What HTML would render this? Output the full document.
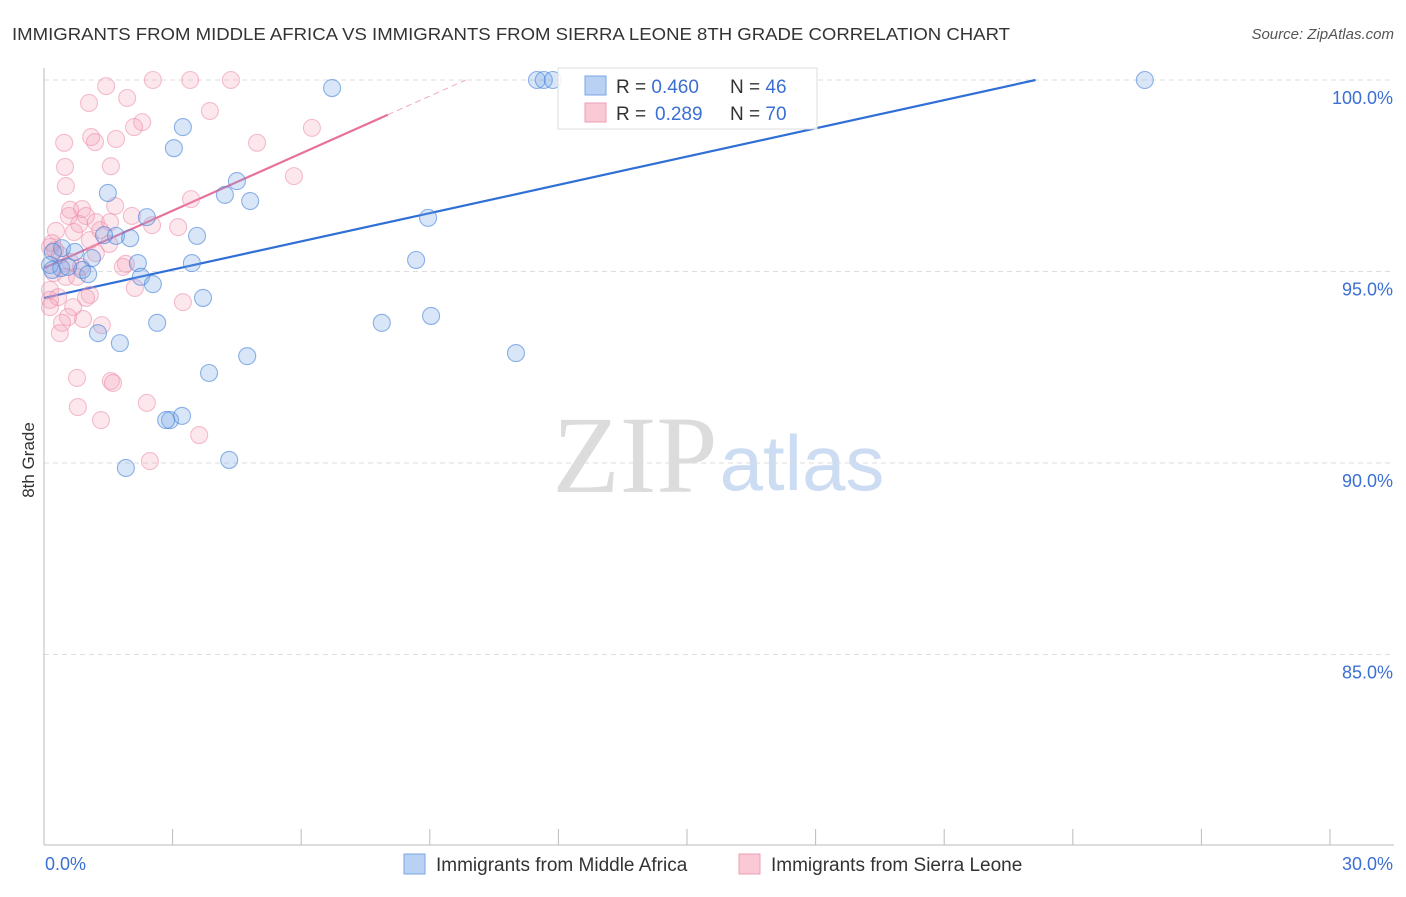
<!DOCTYPE html>
<html><head><meta charset="utf-8"><style>
body{margin:0;background:#fff;width:1406px;height:892px;overflow:hidden;font-family:"Liberation Sans",sans-serif}
svg text{font-family:"Liberation Sans",sans-serif}
</style></head><body>
<svg id="chart" width="1406" height="892">
<text x="12" y="40" font-size="17.5" fill="#333" textLength="998" lengthAdjust="spacingAndGlyphs">IMMIGRANTS FROM MIDDLE AFRICA VS IMMIGRANTS FROM SIERRA LEONE 8TH GRADE CORRELATION CHART</text>
<text x="1394" y="39" font-size="15" fill="#555" font-style="italic" text-anchor="end">Source: ZipAtlas.com</text>
<text transform="translate(34,460) rotate(-90)" font-size="17" fill="#333" text-anchor="middle">8th Grade</text>
<g>
<text x="635" y="492" font-size="110" fill="#dcdcdc" text-anchor="middle" font-family="Liberation Serif" style="font-family:'Liberation Serif',serif">ZIP</text>
<text x="802" y="490" font-size="78" fill="#ccdcf2" text-anchor="middle">atlas</text>
</g>
<g id="grid"></g><g id="axes"></g><g id="lines"></g><g id="pts"></g>
<g>
<rect x="558" y="68" width="259" height="61" fill="#fff" fill-opacity="0.85" stroke="#ddd"/>
<rect x="585" y="76" width="21" height="19" fill="#b9d1f3" stroke="#7aa6e6"/>
<rect x="585" y="103" width="21" height="19" fill="#f9c9d6" stroke="#ef9fb6"/>
<text x="616" y="93" font-size="19" fill="#333">R = <tspan fill="#3b6fd4">0.460</tspan><tspan x="730">N = </tspan><tspan fill="#3b6fd4">46</tspan></text>
<text x="616" y="120" font-size="19" fill="#333">R = <tspan fill="#3b6fd4" x="655">0.289</tspan><tspan x="730">N = </tspan><tspan fill="#3b6fd4">70</tspan></text>
</g>
<g>
<rect x="404" y="854" width="21" height="20" fill="#b9d1f3" stroke="#7aa6e6"/>
<text x="436" y="871" font-size="19" fill="#333">Immigrants from Middle Africa</text>
<rect x="739" y="854" width="21" height="20" fill="#f9c9d6" stroke="#ef9fb6"/>
<text x="771" y="871" font-size="19" fill="#333">Immigrants from Sierra Leone</text>
</g>
</svg>
<script>
const yTicks=[100,95,90,85];
const yTickLabels=["100.0%","95.0%","90.0%","85.0%"];
const xTickLabels=["0.0%","30.0%"];
const blueX=[6.72,11.50,11.66,11.87,25.68,3.24,3.03,4.50,4.22,4.81,1.49,2.40,8.96,1.68,2.01,3.57,1.40,0.42,0.72,0.21,0.14,1.12,2.19,3.45,8.68,0.89,1.03,0.40,2.26,2.54,3.71,2.64,7.88,9.03,1.26,1.77,4.74,11.01,3.85,2.94,3.22,2.85,1.91,4.32,0.19,0.56];
const blueY=[99.79,100,100,100,100,98.77,98.22,97.36,97.00,96.84,97.05,96.42,96.40,95.93,95.87,95.93,95.95,95.61,95.51,95.51,95.17,95.35,95.22,95.22,95.30,95.04,94.93,95.09,94.86,94.67,94.31,93.66,93.66,93.84,93.39,93.13,92.79,92.87,92.35,91.12,91.23,91.12,89.87,90.08,95.04,95.12];
const pinkX=[1.45,2.54,3.41,4.36,1.94,1.05,3.87,2.29,2.10,1.10,1.19,1.68,0.47,6.25,4.97,0.49,1.56,0.51,5.83,1.66,3.43,0.58,0.89,0.98,1.21,1.54,2.05,0.28,0.70,0.82,2.52,3.13,1.52,1.21,0.19,0.14,0.26,0.23,0.51,0.77,0.86,1.84,1.91,0.14,2.12,0.14,0.33,1.07,0.98,3.24,0.14,0.68,0.56,0.91,0.42,0.37,1.35,0.77,1.56,1.61,0.79,2.40,1.33,3.62,2.47,0.37,0.61,1.07,1.31,0.61];
const pinkY=[99.84,100,100,100,99.53,99.40,99.19,98.90,98.77,98.51,98.38,98.46,98.36,98.75,98.36,97.73,97.75,97.23,97.49,96.71,96.89,96.45,96.63,96.45,96.29,96.29,96.45,96.06,96.03,96.24,96.21,96.16,95.72,95.48,95.74,95.64,95.56,94.96,94.86,94.86,95.12,95.12,95.20,94.52,94.57,94.26,94.33,94.39,94.31,94.20,94.07,94.07,93.81,93.76,93.66,93.39,93.60,92.22,92.14,92.09,91.46,91.57,91.12,90.73,90.05,95.43,95.25,95.82,96.08,96.61];
const blueTrend=[94.31,0.246];   // intercept, slope
const pinkTrend=[95.09,0.499];
const NS="http://www.w3.org/2000/svg";
const X=v=>44+v/30*1286, Y=v=>80+(100-v)*38.3;
function mk(tag,attrs,parent){const e=document.createElementNS(NS,tag);for(const k in attrs)e.setAttribute(k,attrs[k]);parent.appendChild(e);return e;}
const grid=document.getElementById('grid'),axes=document.getElementById('axes'),lines=document.getElementById('lines'),pts=document.getElementById('pts');
yTicks.forEach((t,i)=>{
 const l=mk('line',{x1:44,x2:1394,y1:Y(t),y2:Y(t),stroke:'#ddd','stroke-dasharray':'5,4'},grid);
 
 
 const tx=mk('text',{x:1393,y:Y(t)+24,'font-size':18,fill:'#3b6fd4','text-anchor':'end'},grid);
 tx.textContent=yTickLabels[i];
 
 
});
const ya=mk('line',{x1:44,x2:44,y1:68,y2:845,stroke:'#bbb'},axes);


const xa=mk('line',{x1:44,x2:1394,y1:845,y2:845,stroke:'#bbb'},axes);


for(let i=0;i<=10;i++){const tk=mk('line',{x1:X(i*3),x2:X(i*3),y1:829,y2:845,stroke:'#bbb'},axes);
 
 }
[[0,'start'],[30,'end']].forEach((p,i)=>{const t=mk('text',{x:i?1393:45,y:870,'font-size':18,fill:'#3b6fd4','text-anchor':p[1]},axes);t.textContent=xTickLabels[i];
 
 });
function drawPts(xs,ys,fill,stroke,name){xs.forEach((x,i)=>{const c=mk('circle',{cx:X(x),cy:Y(ys[i]),r:8.5,fill:fill,stroke:stroke,'stroke-width':1.1},pts);
 
 });}
drawPts(pinkX,pinkY,'rgba(244,160,185,0.25)','rgba(236,140,170,0.55)','pink-point');
drawPts(blueX,blueY,'rgba(120,165,230,0.28)','rgba(70,130,215,0.6)','blue-point');
const bx1=(100-blueTrend[0])/blueTrend[1];
const bl=mk('line',{x1:X(0),y1:Y(blueTrend[0]),x2:X(bx1),y2:Y(100),stroke:'#2f6fd6','stroke-width':2.2},lines);


const pe=8.02,pd=(100-pinkTrend[0])/pinkTrend[1];
const pl=mk('line',{x1:X(0),y1:Y(pinkTrend[0]),x2:X(pe),y2:Y(pinkTrend[0]+pinkTrend[1]*pe),stroke:'#e8709a','stroke-width':2.2},lines);


const pdl=mk('line',{x1:X(pe),y1:Y(pinkTrend[0]+pinkTrend[1]*pe),x2:X(pd),y2:Y(100),stroke:'#eeaabf','stroke-width':1,'stroke-dasharray':'6,4'},lines);


</script>
</body></html>
